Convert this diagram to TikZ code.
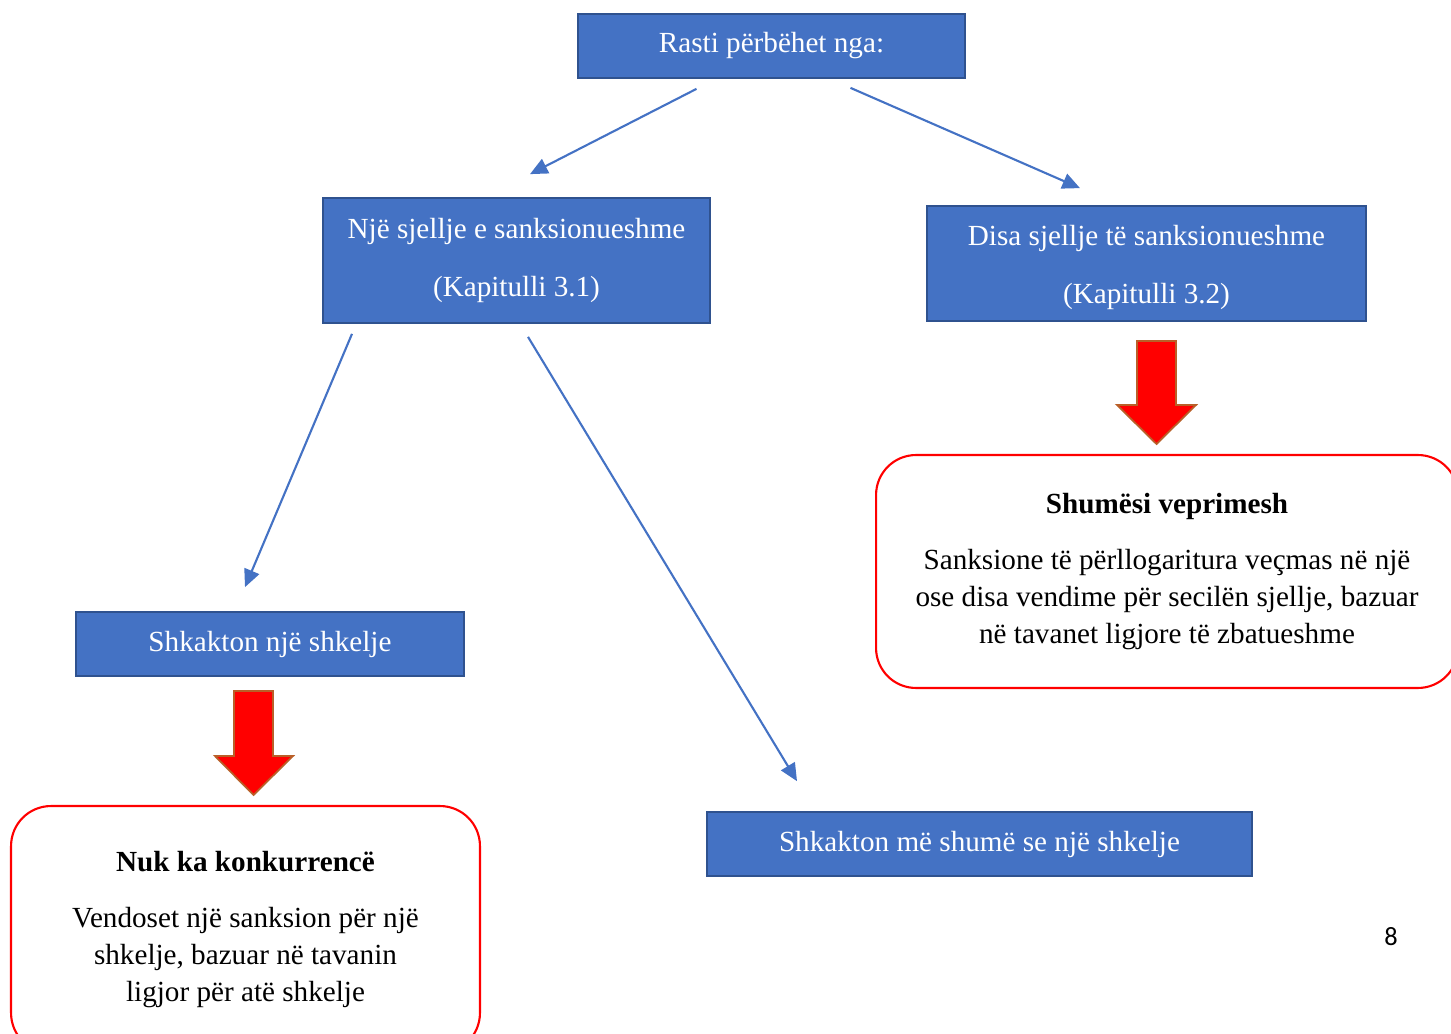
\documentclass[tikz,border=0pt]{standalone}
\usepackage{fontspec}
\setmainfont{Liberation Serif}
\newfontfamily\pagefont{Carlito}
\usetikzlibrary{arrows.meta,calc}
\definecolor{boxblue}{RGB}{68,114,196}
\definecolor{boxedge}{RGB}{47,82,143}
\definecolor{arrowedge}{RGB}{185,95,40}
\tikzset{
  bluebox/.style={draw=boxedge,line width=1pt,fill=boxblue,text=white,inner sep=0pt,
    align=center,font=\fontsize{16.6}{33}\selectfont},
  redbox/.style={draw=red,line width=1.2pt,rounded corners=0.8cm,fill=white,inner sep=0pt,
    align=center,font=\fontsize{16.6}{21}\selectfont},
  conn/.style={draw=boxblue,line width=1.2pt,-{Triangle[length=10pt,width=9pt]}},
  fatarrow/.style={fill=red,draw=arrowedge,line width=1pt}
}
\begin{document}
\begin{tikzpicture}[x=0.02cm,y=-0.02cm]
    \useasboundingbox (0,0) rectangle (1451,1034);
    \clip (0,0) rectangle (1451,1034);
    % blue boxes
    \node[bluebox,minimum width=7.74cm,minimum height=1.28cm] (rasti) at (771.5,46) {Rasti përbëhet nga:};
    \node[bluebox,minimum width=7.74cm,minimum height=2.5cm] (nje) at (516.5,260.5)
        {Një sjellje e sanksionueshme\\(Kapitulli 3.1)};
    \node[bluebox,minimum width=8.78cm,minimum height=2.3cm] (disa) at (1146.5,263.5)
        {\rule{0pt}{16pt}Disa sjellje të sanksionueshme\\(Kapitulli 3.2)};
    \node[bluebox,minimum width=7.76cm,minimum height=1.28cm] (njeshk) at (270,644) {Shkakton një shkelje};
    \node[bluebox,minimum width=10.9cm,minimum height=1.28cm] (meshk) at (979.5,844) {Shkakton më shumë se një shkelje};
    % connectors
    \draw[conn] ($(rasti.south)+(-75,10)$) -- ($(nje.north)+(13.5,-23)$);
    \draw[conn] ($(rasti.south)+(79,9)$) -- ($(disa.north)+(-66.5,-17)$);
    \draw[conn] ($(nje.south)+(-164.5,10)$) -- ($(njeshk.north)+(-25,-24)$);
    \draw[conn] ($(nje.south)+(11.5,13)$) -- ($(meshk.north)+(-182.5,-30)$);
    % red arrows
    \filldraw[fatarrow] (1137,341) -- (1176,341) -- (1176,405) -- (1196,405) -- (1156.5,444) -- (1117,405) -- (1137,405) -- cycle;
    \filldraw[fatarrow] (234,691) -- (273,691) -- (273,756) -- (293,756) -- (253.5,795) -- (215,756) -- (234,756) -- cycle;
    % result boxes
    \node[redbox,minimum width=11.64cm,minimum height=4.66cm] (shumesi) at (1167,571.5)
        {\textbf{Shumësi veprimesh}\\[11pt]Sanksione të përllogaritura veçmas në një\\ose disa vendime për secilën sjellje, bazuar\\në tavanet ligjore të zbatueshme};
    \node[redbox,minimum width=9.38cm,minimum height=4.94cm] (nuk) at (245.5,929.5)
        {\textbf{Nuk ka konkurrencë}\\[11pt]Vendoset një sanksion për një\\shkelje, bazuar në tavanin\\ligjor për atë shkelje};
    \node[font=\pagefont\fontsize{15}{18}\selectfont] (faqe) at (1391,937) {8};
\end{tikzpicture}
\end{document}
